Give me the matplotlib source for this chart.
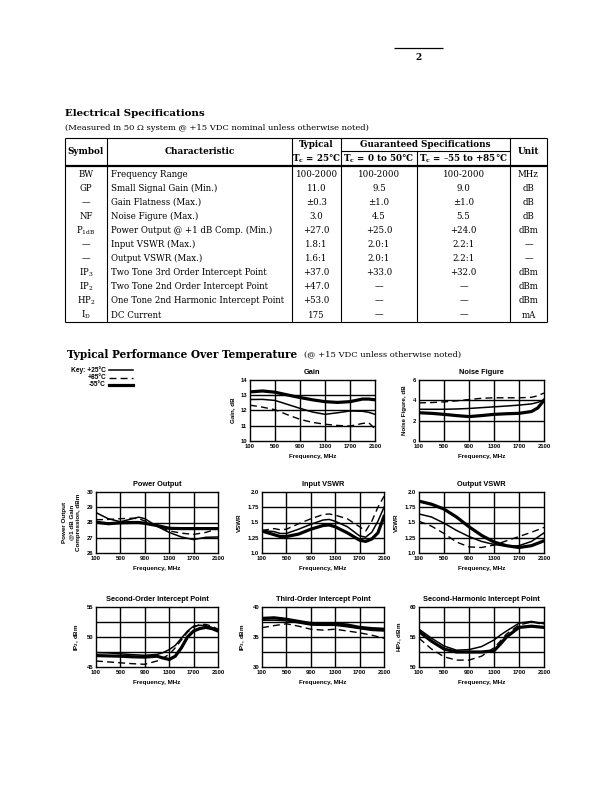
import matplotlib
matplotlib.use("Agg")
import matplotlib.pyplot as plt

plt.rcParams['mathtext.default'] = 'regular'

W, H = 612, 792
SERIF = 'DejaVu Serif'
SANS = 'Liberation Sans'

# ---------------- table data ----------------
symbols = ['BW', 'GP', '—', 'NF', 'P$_{1dB}$', '—', '—', 'IP$_3$', 'IP$_2$', 'HP$_2$', 'I$_D$']
characteristics = ['Frequency Range', 'Small Signal Gain (Min.)', 'Gain Flatness (Max.)',
                   'Noise Figure (Max.)', 'Power Output @ +1 dB Comp. (Min.)',
                   'Input VSWR (Max.)', 'Output VSWR (Max.)',
                   'Two Tone 3rd Order Intercept Point', 'Two Tone 2nd Order Intercept Point',
                   'One Tone 2nd Harmonic Intercept Point', 'DC Current']
typical = ['100-2000', '11.0', '±0.3', '3.0', '+27.0', '1.8:1', '1.6:1', '+37.0', '+47.0', '+53.0', '175']
guar_0_50 = ['100-2000', '9.5', '±1.0', '4.5', '+25.0', '2.0:1', '2.0:1', '+33.0', '—', '—', '—']
guar_55_85 = ['100-2000', '9.0', '±1.0', '5.5', '+24.0', '2.2:1', '2.2:1', '+32.0', '—', '—', '—']
units = ['MHz', 'dB', 'dB', 'dB', 'dBm', '—', '—', 'dBm', 'dBm', 'dBm', 'mA']

# ---------------- chart data ----------------
temps = ['+25°C', '+85°C', '-55°C']

gain_f = [100, 300, 500, 700, 900, 1100, 1300, 1500, 1700, 1900, 2000, 2100]
gain_p25 = [12.72, 12.73, 12.66, 12.4, 12.14, 11.9, 11.75, 11.85, 11.97, 11.95, 11.88, 11.75]
gain_p85 = [12.35, 12.22, 12.05, 11.72, 11.42, 11.22, 11.1, 11.02, 10.98, 11.15, 11.2, 10.8]
gain_m55 = [13.22, 13.28, 13.2, 13.02, 12.85, 12.7, 12.58, 12.53, 12.58, 12.75, 12.75, 12.7]

nf_f = [100, 300, 500, 700, 900, 1100, 1300, 1500, 1700, 1900, 2000, 2100]
nf_p25 = [3.12, 3.12, 3.12, 3.15, 3.2, 3.28, 3.36, 3.44, 3.53, 3.65, 3.8, 4.05]
nf_p85 = [3.75, 3.78, 3.85, 3.95, 4.08, 4.2, 4.25, 4.25, 4.25, 4.3, 4.45, 4.72]
nf_m55 = [2.78, 2.72, 2.62, 2.5, 2.4, 2.5, 2.62, 2.68, 2.72, 2.9, 3.25, 4.0]

po_f = [100, 300, 500, 700, 800, 900, 1100, 1300, 1500, 1700, 1900, 2100]
po_p25 = [28.65, 28.25, 28.05, 28.25, 28.35, 28.25, 27.75, 27.35, 27.05, 26.88, 27.03, 27.05]
po_p85 = [28.18, 28.2, 28.25, 28.28, 28.25, 28.1, 27.75, 27.45, 27.3, 27.22, 27.35, 27.6]
po_m55 = [28.02, 27.92, 27.98, 28.0, 28.0, 27.95, 27.8, 27.62, 27.6, 27.6, 27.6, 27.6]

ivswr_f = [100, 300, 400, 500, 700, 900, 1100, 1200, 1300, 1500, 1700, 1800, 1900, 2000, 2100]
ivswr_p25 = [1.37, 1.35, 1.32, 1.32, 1.39, 1.47, 1.54, 1.55, 1.52, 1.43, 1.28, 1.26, 1.34, 1.52, 1.75]
ivswr_p85 = [1.37, 1.40, 1.38, 1.39, 1.48, 1.56, 1.63, 1.64, 1.62, 1.56, 1.43, 1.36, 1.52, 1.75, 1.93]
ivswr_m55 = [1.36, 1.30, 1.27, 1.27, 1.31, 1.39, 1.45, 1.46, 1.43, 1.33, 1.21, 1.19, 1.23, 1.33, 1.6]

ovswr_f = [100, 300, 500, 700, 900, 1100, 1300, 1500, 1700, 1900, 2100]
ovswr_p25 = [1.64, 1.59, 1.49, 1.37, 1.27, 1.19, 1.14, 1.11, 1.12, 1.19, 1.33]
ovswr_p85 = [1.52, 1.44, 1.32, 1.18, 1.10, 1.09, 1.13, 1.2, 1.27, 1.34, 1.42]
ovswr_m55 = [1.85, 1.80, 1.72, 1.59, 1.43, 1.29, 1.18, 1.12, 1.09, 1.12, 1.2]

ip2_f = [100, 300, 500, 700, 900, 1100, 1200, 1300, 1400, 1500, 1600, 1700, 1800, 1900, 2000, 2100]
ip2_p25 = [47.4, 47.35, 47.2, 47.05, 46.95, 47.1, 47.4, 47.9, 48.6, 49.8, 51.0, 51.8, 51.95, 51.9, 51.6, 51.1]
ip2_p85 = [46.0, 45.85, 45.7, 45.55, 45.45, 46.0, 46.5, 47.1, 48.2, 49.5, 50.8, 51.6, 52.1, 52.1, 51.8, 51.3]
ip2_m55 = [46.9, 46.85, 46.8, 46.7, 46.65, 46.8, 46.5, 46.25, 46.8, 48.2, 50.0, 51.0, 51.4, 51.6, 51.4, 51.0]

ip3_f = [100, 300, 500, 700, 900, 1100, 1300, 1500, 1700, 1900, 2100]
ip3_p25 = [37.8, 37.8, 37.7, 37.35, 37.0, 36.95, 36.95, 36.7, 36.4, 36.1, 36.0]
ip3_p85 = [36.55, 36.9, 37.2, 36.8, 36.3, 36.15, 36.3, 36.0, 35.7, 35.3, 34.8]
ip3_m55 = [38.1, 38.2, 37.95, 37.6, 37.25, 37.2, 37.2, 37.0, 36.6, 36.4, 36.3]

hp2_f = [100, 300, 500, 700, 900, 1100, 1300, 1400, 1500, 1700, 1900, 2100]
hp2_p25 = [56.3, 54.8, 53.5, 52.8, 52.9, 53.4, 54.5, 55.3, 56.0, 57.3, 57.6, 57.2]
hp2_p85 = [54.8, 53.0, 51.7, 51.15, 51.15, 51.8, 53.2, 54.3, 55.5, 57.0, 57.5, 57.1]
hp2_m55 = [55.9, 54.3, 53.0, 52.5, 52.5, 52.5, 52.7, 53.8, 55.0, 56.6, 56.8, 56.6]

freq_ticks = [100, 500, 900, 1300, 1700, 2100]

fig = plt.figure(figsize=(W / 100, H / 100), dpi=100)
fig.patch.set_facecolor('white')

# overlay axes in pixel coordinates
ov = fig.add_axes([0, 0, 1, 1])
ov.set_xlim(0, W)
ov.set_ylim(H, 0)
ov.axis('off')

def txt(x, y, s, size=7, weight='normal', ha='left', va='center', family=SERIF, mff='dejavuserif'):
    ov.text(x, y, s, fontsize=size, fontweight=weight, ha=ha, va=va, family=family,
            math_fontfamily=mff)

def hline(x0, x1, y, lw=0.8):
    ov.plot([x0, x1], [y, y], color='black', lw=lw, solid_capstyle='butt')

def vline(x, y0, y1, lw=0.8):
    ov.plot([x, x], [y0, y1], color='black', lw=lw, solid_capstyle='butt')

# page number
hline(394, 443, 48, lw=0.9)
txt(418.5, 57, '2', size=6.5, weight='bold', ha='center')

# title
txt(65, 114, 'Electrical Specifications', size=7.4, weight='bold')
txt(65, 128, '(Measured in 50 Ω system @ +15 VDC nominal unless otherwise noted)', size=6.0)

# table grid
tl, tr, tt, tb = 65, 547, 138, 322
cols = [107, 292, 341, 510]
hline(tl, tr, tt)
hline(tl, tr, tb)
vline(tl, tt, tb)
vline(tr, tt, tb)
for c in cols:
    vline(c, tt, tb)
vline(417, 151, tb)
hline(341, 510, 151)
hline(tl, tr, 166, lw=1.6)

# header
hs = 6.3
txt(86, 151, 'Symbol', size=hs, weight='bold', ha='center')
txt(199.5, 151, 'Characteristic', size=hs, weight='bold', ha='center')
txt(316.5, 144.5, 'Typical', size=hs, weight='bold', ha='center')
txt(316.5, 158.5, 'T$_c$ = 25°C', size=hs, weight='bold', ha='center')
txt(425.5, 144.5, 'Guaranteed Specifications', size=hs, weight='bold', ha='center')
txt(379, 158.5, 'T$_c$ = 0 to 50°C', size=hs, weight='bold', ha='center')
txt(463.5, 158.5, 'T$_c$ = –55 to +85°C', size=hs, weight='bold', ha='center')
txt(528.5, 151, 'Unit', size=hs, weight='bold', ha='center')

rs = 6.2
for i in range(len(symbols)):
    y = 174.3 + 14.07 * i
    txt(86, y, symbols[i], size=rs, ha='center')
    txt(111, y, characteristics[i], size=rs)
    txt(316.5, y, typical[i], size=rs, ha='center')
    txt(379, y, guar_0_50[i], size=rs, ha='center')
    txt(463.5, y, guar_55_85[i], size=rs, ha='center')
    txt(528.5, y, units[i], size=rs, ha='center')

# section title
txt(67, 354, 'Typical Performance Over Temperature', size=7.6, weight='bold')
txt(304, 354.5, '(@ +15 VDC unless otherwise noted)', size=6.0)

# line styles
styles = {
    '+25°C': dict(color='black', lw=1.1, ls='-'),
    '+85°C': dict(color='black', lw=1.0, ls=(0, (5, 3))),
    '-55°C': dict(color='black', lw=2.3, ls='-'),
}

# key
key_y = [370, 377.5, 385]
key_lbl = ['Key: ' + temps[0], temps[1], temps[2]]
for y, lbl, t in zip(key_y, key_lbl, temps):
    txt(106, y, lbl, size=4.8, weight='bold', ha='right', family=SANS, mff='dejavusans')
    ov.plot([109, 133], [y, y], **styles[t])

def make_axes(box, title, ylabel, ylim, yticks, ylabels, grid_y, series, f):
    x0, y0, x1, y1 = box
    ax = fig.add_axes([x0 / W, 1 - y1 / H, (x1 - x0) / W, (y1 - y0) / H])
    ax.set_xlim(100, 2100)
    ax.set_ylim(*ylim)
    for t, vals in zip(temps, series):
        ax.plot(f, vals, **styles[t], zorder=3)
    for gx in freq_ticks[1:-1]:
        ax.axvline(gx, color='black', lw=1.0, zorder=1)
    for gy in grid_y:
        ax.axhline(gy, color='black', lw=1.0, zorder=1)
    ax.set_xticks(freq_ticks)
    ax.set_xticklabels([str(v) for v in freq_ticks], fontsize=4.2, fontweight='bold', family=SANS)
    ax.set_yticks(yticks)
    ax.set_yticklabels(ylabels, fontsize=4.2, fontweight='bold', family=SANS)
    ax.tick_params(length=0, pad=2)
    for s in ax.spines.values():
        s.set_linewidth(1.0)
    ax.set_title(title, fontsize=5.3, fontweight='bold', family=SANS, pad=4)
    ax.set_xlabel('Frequency, MHz', fontsize=4.5, fontweight='bold', family=SANS, labelpad=4)
    ax.set_ylabel(ylabel, fontsize=4.5, fontweight='bold', family=SANS, labelpad=4,
                  math_fontfamily='dejavusans', linespacing=1.5)
    return ax

make_axes((250, 380, 375, 441), 'Gain', 'Gain, dB', (10, 14), [10, 11, 12, 13, 14],
          ['10', '11', '12', '13', '14'], [11, 12, 13], [gain_p25, gain_p85, gain_m55], gain_f)
make_axes((419, 380, 544, 441), 'Noise Figure', 'Noise Figure, dB', (0, 6), [0, 2, 4, 6],
          ['0', '2', '4', '6'], [2, 4], [nf_p25, nf_p85, nf_m55], nf_f)
make_axes((96, 492, 218, 553), 'Power Output', 'Power Output\n@1 dB Gain\nCompression, dBm', (26, 30),
          [26, 27, 28, 29, 30], ['26', '27', '28', '29', '30'], [27, 28, 29],
          [po_p25, po_p85, po_m55], po_f)
make_axes((262, 492, 384, 553), 'Input VSWR', 'VSWR', (1.0, 2.0), [1.0, 1.25, 1.5, 1.75, 2.0],
          ['1.0', '1.25', '1.5', '1.75', '2.0'], [1.25, 1.5, 1.75],
          [ivswr_p25, ivswr_p85, ivswr_m55], ivswr_f)
make_axes((419, 492, 544, 553), 'Output VSWR', 'VSWR', (1.0, 2.0), [1.0, 1.25, 1.5, 1.75, 2.0],
          ['1.0', '1.25', '1.5', '1.75', '2.0'], [1.25, 1.5, 1.75],
          [ovswr_p25, ovswr_p85, ovswr_m55], ovswr_f)
make_axes((96, 607, 218, 667), 'Second-Order Intercept Point', 'IP$_2$, dBm', (45, 55), [45, 50, 55],
          ['45', '50', '55'], [47.5, 50, 52.5], [ip2_p25, ip2_p85, ip2_m55], ip2_f)
make_axes((262, 607, 384, 667), 'Third-Order Intercept Point', 'IP$_3$, dBm', (30, 40), [30, 35, 40],
          ['30', '35', '40'], [32.5, 35, 37.5], [ip3_p25, ip3_p85, ip3_m55], ip3_f)
make_axes((419, 607, 544, 667), 'Second-Harmonic Intercept Point', 'HP$_2$, dBm', (50, 60), [50, 55, 60],
          ['50', '55', '60'], [52.5, 55, 57.5], [hp2_p25, hp2_p85, hp2_m55], hp2_f)

fig.savefig('out.png', dpi=100, facecolor='white')
